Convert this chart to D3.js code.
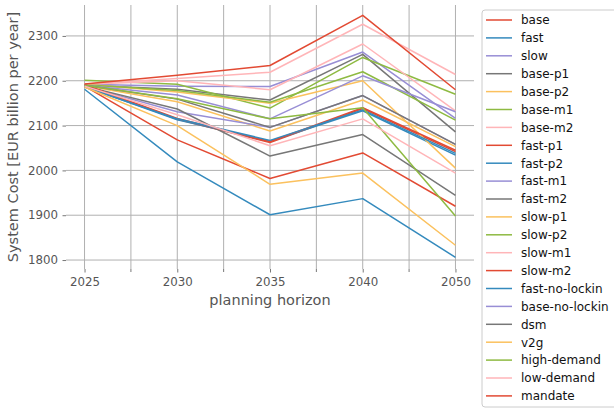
<!DOCTYPE html>
<html><head><meta charset="utf-8">
<script src="https://cdn.jsdelivr.net/npm/d3@7"></script>
<style>
html,body{margin:0;padding:0;background:#fff;}
svg{display:block;font-family:"DejaVu Sans",sans-serif;}
</style></head>
<body><svg id="chart" width="614" height="408"></svg>
<script>
const horizons = ["2025", "2030", "2035", "2040", "2050"];
const scenarios = ["base","fast","slow","base-p1","base-p2","base-m1","base-m2","fast-p1","fast-p2","fast-m1","fast-m2","slow-p1","slow-p2","slow-m1","slow-m2","fast-no-lockin","base-no-lockin","dsm","v2g","high-demand","low-demand","mandate"];
const base          = [2190, 2114, 2062, 2138, 2042];
const fast          = [2181, 2019, 1901, 1937, 1806];
const slow          = [2192, 2188, 2187, 2264, 2116];
const baseP1        = [2190, 2181, 2157, 2259, 2086];
const baseP2        = [2189, 2153, 2088, 2157, 2053];
const baseM1        = [2201, 2192, 2139, 2252, 2170];
const baseM2        = [2192, 2200, 2180, 2282, 2133];
const fastP1        = [2188, 2068, 1982, 2039, 1920];
const fastP2        = [2187, 2113, 2065, 2133, 2034];
const fastM1        = [2188, 2131, 2096, 2167, 2058];
const fastM2        = [2188, 2137, 2032, 2080, 1944];
const slowP1        = [2192, 2175, 2150, 2200, 2005];
const slowP2        = [2191, 2178, 2152, 2220, 2112];
const slowM1        = [2193, 2205, 2219, 2326, 2214];
const slowM2        = [2191, 2116, 2064, 2140, 2045];
const fastNoLockin  = [2186, 2115, 2067, 2135, 2038];
const baseNoLockin  = [2190, 2168, 2115, 2211, 2131];
const dsm           = [2190, 2159, 2096, 2167, 2058];
const v2g           = [2186, 2100, 1969, 1994, 1833];
const highDemand    = [2190, 2160, 2115, 2140, 1898];
const lowDemand     = [2188, 2124, 2055, 2115, 1994];
const mandate       = [2193, 2212, 2234, 2346, 2180];
const seriesValues = [base, fast, slow, baseP1, baseP2, baseM1, baseM2, fastP1, fastP2, fastM1, fastM2, slowP1, slowP2, slowM1, slowM2, fastNoLockin, baseNoLockin, dsm, v2g, highDemand, lowDemand, mandate];
const yTicks = [1800, 1900, 2000, 2100, 2200, 2300];
const palette = ["#E24A33","#348ABD","#988ED5","#777777","#FBC15E","#8EBA42","#FFB5B8"];

const svg = d3.select("#chart");
const L = 66, R = 474, T = 5, B = 269;
const x = d3.scalePoint().domain(horizons).range([L, R]).padding(0.2);
const y = d3.scaleLinear().domain([1780, 2369]).range([B, T]);
const color = d3.scaleOrdinal().domain(scenarios).range(palette);
const step = x.step();
const minorPos = horizons.slice(0, -1).map(h => x(h) + step / 2);

const grid = svg.append("g");
// horizontal grid
grid.selectAll("line.h").data(yTicks).join("line")
  .attr("x1", L).attr("x2", R).attr("y1", d => y(d)).attr("y2", d => y(d))
  .attr("stroke", "#b0b0b0").attr("stroke-width", 1);
// vertical grid major + minor
grid.selectAll("line.v").data(horizons.map(h => x(h)).concat(minorPos)).join("line")
  .attr("x1", d => d).attr("x2", d => d).attr("y1", T).attr("y2", B)
  .attr("stroke", "#b0b0b0").attr("stroke-width", 1);

// axes
const yAxis = d3.axisLeft(y).tickValues(yTicks).tickSize(3.5).tickPadding(4.5).tickFormat(d3.format("d"));
const gy = svg.append("g").attr("transform", `translate(${L},0)`).call(yAxis);
const xAxis = d3.axisBottom(x).tickSize(3.5).tickPadding(5);
const gx = svg.append("g").attr("transform", `translate(0,${B})`).call(xAxis);
[gx, gy].forEach(g => {
  g.select(".domain").remove();
  g.selectAll(".tick line").attr("stroke", "#555555").attr("stroke-width", 0.8);
  g.selectAll(".tick text").attr("fill", "#555555").attr("font-size", "11.8px").attr("font-family", "DejaVu Sans");
});
// minor x ticks
svg.append("g").selectAll("line").data(minorPos).join("line")
  .attr("x1", d => d).attr("x2", d => d).attr("y1", B).attr("y2", B + 3)
  .attr("stroke", "#555555").attr("stroke-width", 0.8);

// lines
const lineGen = d3.line().x((d, i) => x(horizons[i])).y(d => y(d));
svg.append("g").selectAll("path").data(seriesValues).join("path")
  .attr("d", d => lineGen(d))
  .attr("fill", "none")
  .attr("stroke", (d, i) => color(scenarios[i]))
  .attr("stroke-width", 1.5)
  .attr("stroke-linejoin", "round");

// axis labels
svg.append("text").attr("x", (L + R) / 2).attr("y", 305)
  .attr("text-anchor", "middle").attr("fill", "#555555").attr("font-size", "14.5px")
  .text("planning horizon");
svg.append("text").attr("transform", `translate(18,${(T + B) / 2}) rotate(-90)`)
  .attr("text-anchor", "middle").attr("fill", "#555555").attr("font-size", "14.5px")
  .text("System Cost [EUR billion per year]");

// legend
const lg = svg.append("g");
lg.append("rect").attr("x", 482).attr("y", 10).attr("width", 140).attr("height", 397)
  .attr("rx", 3).attr("fill", "#ffffff").attr("fill-opacity", 0.8).attr("stroke", "#cccccc").attr("stroke-width", 1);
const items = lg.selectAll("g.item").data(scenarios).join("g")
  .attr("transform", (d, i) => `translate(0,${20 + i * 17.9})`);
items.append("line").attr("x1", 486).attr("x2", 512).attr("y1", 0).attr("y2", 0)
  .attr("stroke", d => color(d)).attr("stroke-width", 1.5);
items.append("text").attr("x", 521).attr("y", 4.3).attr("font-size", "12px").attr("fill", "#111111")
  .text(d => d);
</script></body></html>
